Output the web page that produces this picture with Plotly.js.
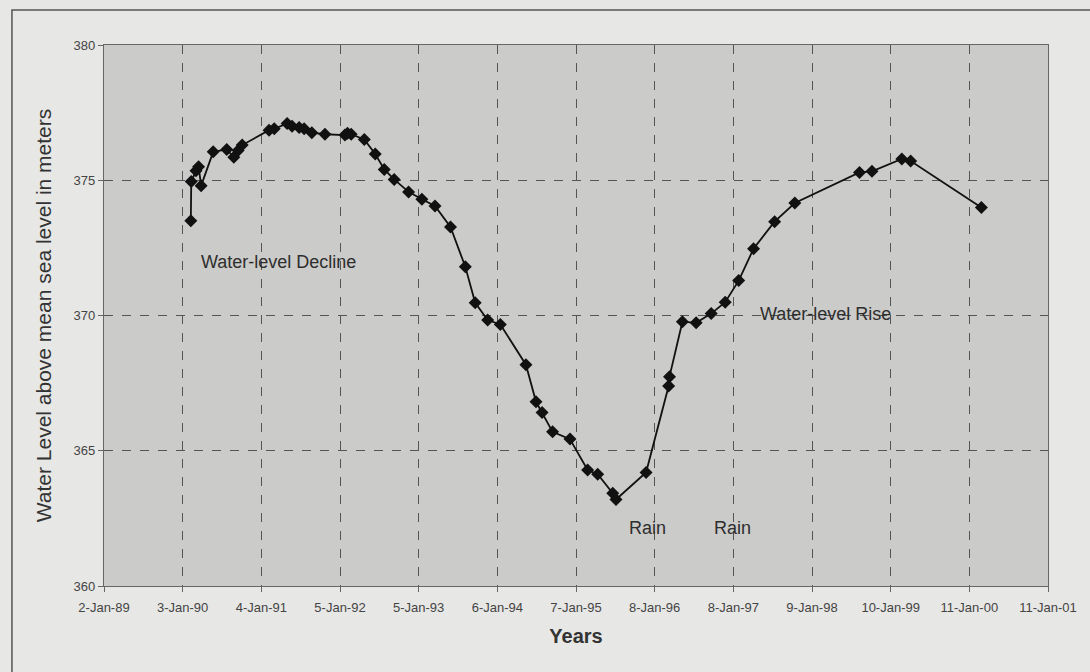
<!DOCTYPE html>
<html>
<head>
<meta charset="utf-8">
<script src="https://cdn.plot.ly/plotly-3.0.1.min.js"></script>
<style>
  html, body { margin: 0; padding: 0; background: #e7e7e5; }
  #chart { width: 1090px; height: 672px; }
</style>
</head>
<body>
<div id="chart"></div>
<script>
const dates = [
  "1990-02-10", "1990-02-12", "1990-03-06", "1990-03-18", "1990-03-30",
  "1990-05-25", "1990-07-27", "1990-08-29", "1990-09-18", "1990-10-07",
  "1991-02-09", "1991-03-05", "1991-05-04", "1991-05-27", "1991-06-29",
  "1991-07-22", "1991-08-27", "1991-10-27", "1992-01-28", "1992-02-09",
  "1992-02-26", "1992-04-27", "1992-06-17", "1992-07-29", "1992-09-13",
  "1992-11-19", "1993-01-20", "1993-03-22", "1993-06-02", "1993-08-10",
  "1993-09-25", "1993-11-22", "1994-01-20", "1994-05-19", "1994-07-05",
  "1994-08-02", "1994-09-20", "1994-12-10", "1995-03-02", "1995-04-18",
  "1995-06-27", "1995-07-12", "1995-11-29", "1996-03-13", "1996-03-17",
  "1996-05-16", "1996-07-19", "1996-09-27", "1996-12-01", "1997-02-02",
  "1997-04-12", "1997-07-19", "1997-10-21", "1998-08-18", "1998-10-15",
  "1999-03-03", "1999-04-13", "2000-03-07"
];
// Water level above mean sea level (m)
const levels = [
  373.5, 374.95, 375.35, 375.5, 374.8,
  376.05, 376.14, 375.85, 376.1, 376.3,
  376.85, 376.9, 377.1, 377.0, 376.95,
  376.9, 376.76, 376.7, 376.67, 376.74,
  376.7, 376.51, 375.97, 375.4, 375.03,
  374.57, 374.3, 374.05, 373.27, 371.8,
  370.47, 369.83, 369.67, 368.18, 366.81,
  366.41, 365.7, 365.43, 364.29, 364.13,
  363.43, 363.2, 364.2, 367.39, 367.74,
  369.77, 369.73, 370.07, 370.49, 371.29,
  372.47, 373.47, 374.16, 375.29, 375.33,
  375.79, 375.71, 373.99
];
// X-axis tick positions and labels
const tickDates = [
  "1989-01-02", "1990-01-03", "1991-01-04", "1992-01-05", "1993-01-05",
  "1994-01-06", "1995-01-07", "1996-01-08", "1997-01-08", "1998-01-09",
  "1999-01-10", "2000-01-11", "2001-01-11"
];
const tickLabels = [
  "2-Jan-89", "3-Jan-90", "4-Jan-91", "5-Jan-92", "5-Jan-93",
  "6-Jan-94", "7-Jan-95", "8-Jan-96", "8-Jan-97", "9-Jan-98",
  "10-Jan-99", "11-Jan-00", "11-Jan-01"
];
const yTicks = [360, 365, 370, 375, 380];
// Text notes on the chart
const noteTexts = ["Water-level Decline", "Water-level Rise", "Rain", "Rain"];
const noteX = ["1991-03-23", "1998-03-13", "1995-12-05", "1997-01-04"];
const noteY = [371.98, 370.06, 362.14, 362.14];

const font = "Liberation Sans, Arial, sans-serif";

const trace = {
  x: dates,
  y: levels,
  type: "scatter",
  mode: "lines+markers",
  line: { color: "#111111", width: 1.8 },
  marker: { symbol: "diamond", size: 10, color: "#111111" },
  hoverinfo: "x+y"
};

const annotations = noteTexts.map((t, i) => ({
  x: noteX[i], y: noteY[i], xref: "x", yref: "y",
  text: t, showarrow: false,
  font: { family: font, size: 18, color: "#2e2e2e" }
}));

const layout = {
  width: 1090, height: 672,
  paper_bgcolor: "#e7e7e5",
  plot_bgcolor: "#cbcbc9",
  margin: { l: 104, r: 42, t: 45, b: 86 },
  showlegend: false,
  font: { family: font, color: "#444" },
  xaxis: {
    type: "date",
    range: [tickDates[0], tickDates[tickDates.length - 1]],
    tickmode: "array",
    tickvals: tickDates,
    ticktext: tickLabels,
    tickfont: { family: font, size: 13, color: "#444" },
    ticks: "outside", ticklen: 5, tickcolor: "#666",
    ticklabelstandoff: 4,
    showgrid: true, gridcolor: "#555", griddash: "dash", gridwidth: 1,
    showline: true, linecolor: "#666", linewidth: 1.2, mirror: true,
    zeroline: false,
    title: { text: "<b>Years</b>", font: { family: font, size: 20, color: "#333" }, standoff: 15 }
  },
  yaxis: {
    range: [360, 380],
    tickmode: "array",
    tickvals: yTicks,
    ticktext: yTicks.map(String),
    tickfont: { family: font, size: 13, color: "#444" },
    ticks: "outside", ticklen: 5, tickcolor: "#666",
    showgrid: true, gridcolor: "#555", griddash: "dash", gridwidth: 1,
    showline: true, linecolor: "#666", linewidth: 1.2, mirror: true,
    zeroline: false,
    title: { text: "Water Level above mean sea level in meters", font: { family: font, size: 21, color: "#333" }, standoff: 16 }
  },
  annotations: annotations,
  shapes: [{
    type: "rect", xref: "paper", yref: "paper",
    x0: -0.0975, x1: 1.3, y0: -0.3, y1: 1.0647,
    line: { color: "#555", width: 1.5 }, fillcolor: "rgba(0,0,0,0)", layer: "below"
  }]
};

Plotly.newPlot("chart", [trace], layout, { displayModeBar: false, staticPlot: true });
</script>
</body>
</html>
